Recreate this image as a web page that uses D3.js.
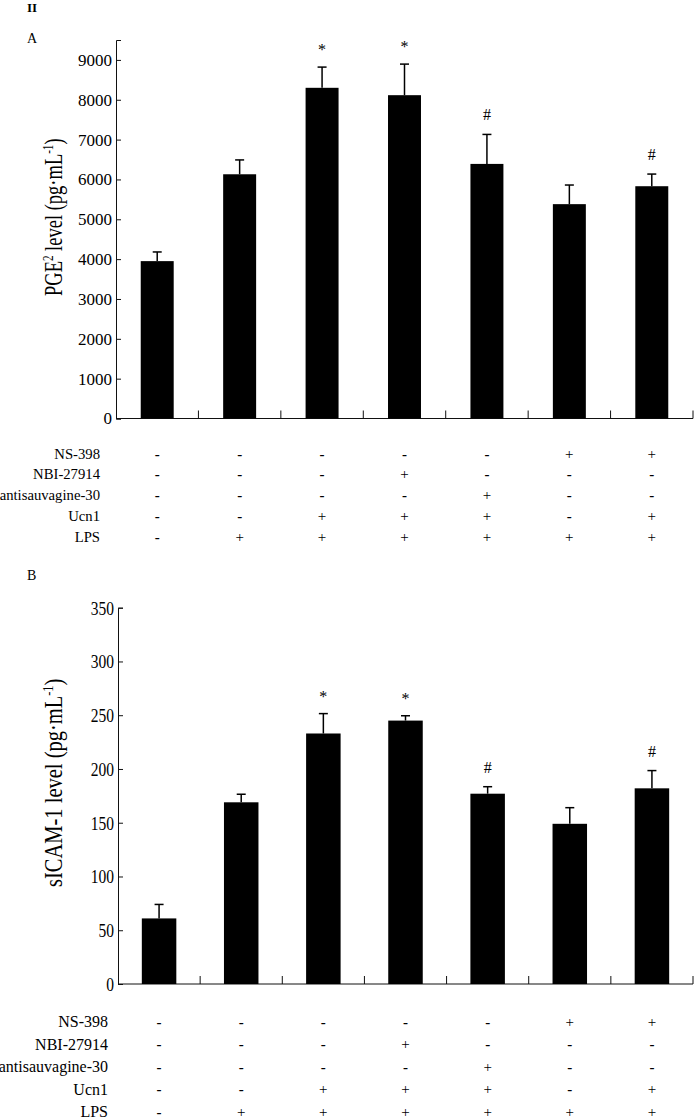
<!DOCTYPE html>
<html>
<head>
<meta charset="utf-8">
<script src="https://cdn.jsdelivr.net/npm/d3@7"></script>
<style>
  body { margin: 0; background: #fff; }
  svg text { font-family: "Liberation Serif", "Times New Roman", serif; fill: #000; }
</style>
</head>
<body>
<div id="viz"></div>
<script>
// groups (one bar per treatment combination)
const groups = ["g1", "g2", "g3", "g4", "g5", "g6", "g7"];

// treatment table rows
const rowLabels = ["NS-398", "NBI-27914", "antisauvagine-30", "Ucn1", "LPS"];
const ns398 = ["-", "-", "-", "-", "-", "+", "+"];
const nbi27914 = ["-", "-", "-", "+", "-", "-", "-"];
const antisauvagine = ["-", "-", "-", "-", "+", "-", "-"];
const ucn1 = ["-", "-", "+", "+", "+", "-", "+"];
const lps = ["-", "+", "+", "+", "+", "+", "+"];

// panel A: PGE2 (pg/mL)
const pge2Mean = [3950, 6130, 8300, 8115, 6390, 5380, 5830];
const pge2Err = [230, 360, 520, 780, 740, 480, 305];
const pge2Ticks = [0, 1000, 2000, 3000, 4000, 5000, 6000, 7000, 8000, 9000];

// panel B: sICAM-1 (pg/mL)
const sicamMean = [61, 169, 233, 245, 177, 149, 182];
const sicamErr = [13, 7.5, 18.5, 4.5, 6.5, 15, 16.5];
const sicamTicks = [0, 50, 100, 150, 200, 250, 300, 350];

// significance marks
const marks = ["", "", "*", "*", "#", "", "#"];

const W = 694, H = 1120;
const svg = d3.select("#viz")
  .append("svg")
    .attr("width", W)
    .attr("height", H);

svg.append("text").attr("x", 27).attr("y", 12)
  .attr("font-size", 13).attr("font-weight", "bold").text("II");

function drawPanel(p) {
  const g = svg.append("g");

  g.append("text").attr("x", 27).attr("y", p.letterY)
    .attr("font-size", 14).text(p.letter);

  const x = d3.scaleBand()
    .domain(groups)
    .range([p.left, p.right])
    .paddingInner(p.pad)
    .paddingOuter(p.pad / 2);

  const y = d3.scaleLinear()
    .domain([0, p.yMax])
    .range([p.zeroY, p.topY]);

  // y axis (ticks point inward)
  const yAxis = g.append("g")
    .attr("transform", "translate(" + p.left + ",0)")
    .call(d3.axisRight(y).tickValues(p.ticks).tickSize(5).tickFormat(d3.format("d")));
  yAxis.select(".domain").attr("stroke", "#111");
  yAxis.selectAll(".tick line").attr("stroke", "#111");
  yAxis.selectAll(".tick text")
    .attr("x", -4)
    .attr("text-anchor", "end")
    .attr("font-family", "Liberation Serif, serif")
    .attr("font-size", p.tickSize)
    .attr("transform", "scale(1," + p.tickStretch + ")");

  // x axis: ticks at band boundaries pointing up
  const bounds = d3.range(groups.length + 1).map(i => p.left + i * x.step());
  g.append("line")
    .attr("x1", p.left).attr("x2", p.right)
    .attr("y1", y(0)).attr("y2", y(0))
    .attr("stroke", "#111");
  g.selectAll(".xtick").data(bounds.slice(1)).join("line")
    .attr("x1", d => d).attr("x2", d => d)
    .attr("y1", y(0)).attr("y2", y(0) - 8)
    .attr("stroke", "#111");

  // bars
  g.selectAll(".bar").data(p.mean).join("rect")
    .attr("x", (d, i) => x(groups[i]))
    .attr("width", x.bandwidth())
    .attr("y", d => y(d))
    .attr("height", d => y(0) - y(d))
    .attr("fill", "#000");

  // error bars (upper only)
  const cx = i => x(groups[i]) + x.bandwidth() / 2;
  g.selectAll(".err").data(p.mean).join("line")
    .attr("x1", (d, i) => cx(i)).attr("x2", (d, i) => cx(i))
    .attr("y1", d => y(d))
    .attr("y2", (d, i) => y(d + p.err[i]))
    .attr("stroke", "#000").attr("stroke-width", 1.5);
  g.selectAll(".cap").data(p.mean).join("line")
    .attr("x1", (d, i) => cx(i) - 4.5).attr("x2", (d, i) => cx(i) + 4.5)
    .attr("y1", (d, i) => y(d + p.err[i]))
    .attr("y2", (d, i) => y(d + p.err[i]))
    .attr("stroke", "#000").attr("stroke-width", 1.5);

  // significance marks
  g.selectAll(".mark").data(marks).join("text")
    .attr("x", (d, i) => cx(i))
    .attr("y", (d, i) => y(p.mean[i] + p.err[i]) - (d === "*" ? 12 : 14))
    .attr("text-anchor", "middle")
    .attr("font-size", 16)
    .text(d => d);

  // y label
  const yl = g.append("text")
    .attr("transform", "translate(" + p.labelX + "," + p.labelY + ") rotate(-90) scale(1," + p.labelStretch + ")")
    .attr("font-size", p.labelSize);
  yl.append("tspan").text(p.labelHead);
  yl.append("tspan").attr("font-size", p.labelSize * 0.6).attr("dy", p.labelSup ? -p.labelSize * 0.35 : 0).text(p.labelSup);
  yl.append("tspan").attr("dy", p.labelSup ? p.labelSize * 0.35 : 0).text(" level (pg\u00b7mL");
  yl.append("tspan").attr("font-size", p.labelSize * 0.6).attr("dy", -p.labelSize * 0.35).text("-1");
  yl.append("tspan").attr("dy", p.labelSize * 0.35).text(")");

  // treatment table
  const rows = [ns398, nbi27914, antisauvagine, ucn1, lps];
  rows.forEach((row, r) => {
    const ry = p.rowY + r * p.rowStep;
    g.append("text")
      .attr("x", p.rowLabelX).attr("y", ry)
      .attr("text-anchor", "end")
      .attr("dominant-baseline", "central")
      .attr("font-size", p.rowSize)
      .text(rowLabels[r]);
    g.selectAll(".cell" + r).data(row).join("text")
      .attr("x", (d, i) => cx(i))
      .attr("y", ry)
      .attr("text-anchor", "middle")
      .attr("dominant-baseline", "central")
      .attr("font-size", 15)
      .attr("font-weight", d => d === "-" ? "bold" : "normal")
      .attr("fill", "#222")
      .text(d => d);
  });
}

drawPanel({
  letter: "A", letterY: 43,
  left: 116, right: 693, pad: 0.6,
  zeroY: 418.5, topY: 40, yMax: 9500, ticks: pge2Ticks,
  tickSize: 17, tickStretch: 1,
  mean: pge2Mean, err: pge2Err,
  labelX: 62, labelY: 296, labelSize: 18.5, labelStretch: 1.35,
  labelHead: "PGE", labelSup: "2",
  rowY: 453.5, rowStep: 20.8, rowLabelX: 100, rowSize: 14.7
});

drawPanel({
  letter: "B", letterY: 580,
  left: 118, right: 693, pad: 0.58,
  zeroY: 984, topY: 607.7, yMax: 350, ticks: sicamTicks,
  tickSize: 15.5, tickStretch: 1.28,
  mean: sicamMean, err: sicamErr,
  labelX: 62, labelY: 887, labelSize: 20.5, labelStretch: 1.22,
  labelHead: "sICAM-1", labelSup: "",
  rowY: 1021.5, rowStep: 22.5, rowLabelX: 108, rowSize: 16
});
</script>
</body>
</html>
